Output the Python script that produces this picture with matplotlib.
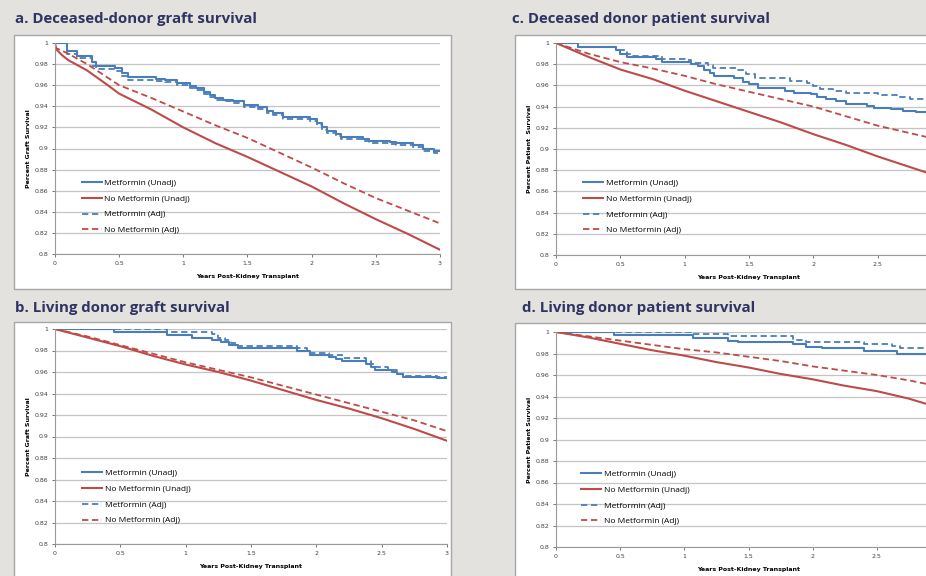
import matplotlib
matplotlib.use("Agg")
import matplotlib.pyplot as plt
from matplotlib.patches import Rectangle

# ---- data (years, survival fraction) ----
a_met_t = [0, 0.09, 0.17, 0.29, 0.32, 0.47, 0.52, 0.57, 0.79, 0.86, 0.95, 1.05, 1.1, 1.16, 1.21, 1.25,
           1.31, 1.39, 1.47, 1.58, 1.65, 1.7, 1.78, 1.99, 2.04, 2.08, 2.12, 2.19, 2.23, 2.4, 2.45, 2.61,
           2.66, 2.79, 2.87, 2.95, 3.0]
a_met_v = [1.0, 0.992, 0.988, 0.982, 0.978, 0.976, 0.972, 0.968, 0.966, 0.965, 0.962, 0.959, 0.957,
           0.954, 0.951, 0.948, 0.946, 0.945, 0.941, 0.939, 0.936, 0.934, 0.930, 0.928, 0.924, 0.92,
           0.917, 0.914, 0.911, 0.909, 0.907, 0.906, 0.905, 0.903, 0.900, 0.898, 0.898]
a_met_adj_v = [1.0, 0.990, 0.986, 0.978, 0.975, 0.973, 0.969, 0.965, 0.964, 0.963, 0.960, 0.957, 0.955,
               0.952, 0.949, 0.946, 0.945, 0.943, 0.939, 0.937, 0.934, 0.932, 0.928, 0.926, 0.922, 0.918,
               0.915, 0.912, 0.909, 0.907, 0.905, 0.904, 0.903, 0.901, 0.898, 0.896, 0.896]
a_nomet_t = [0, 0.01, 0.05, 0.1, 0.25, 0.4, 0.5, 0.75, 1.0, 1.25, 1.5, 1.75, 2.0, 2.25, 2.5, 2.75, 3.0]
a_nomet_v = [1.0, 0.994, 0.989, 0.984, 0.974, 0.961, 0.952, 0.937, 0.920, 0.905, 0.892, 0.878, 0.864,
             0.848, 0.833, 0.819, 0.804]
a_nomet_adj_v = [0.997, 0.995, 0.993, 0.990, 0.980, 0.968, 0.960, 0.948, 0.935, 0.922, 0.910, 0.896,
                 0.882, 0.867, 0.853, 0.841, 0.829]

b_met_t = [0, 0.45, 0.86, 1.05, 1.2, 1.27, 1.33, 1.4, 1.85, 1.95, 2.1, 2.15, 2.2, 2.38, 2.42, 2.45,
           2.58, 2.62, 2.66, 2.92, 3.0]
b_met_v = [1.0, 0.997, 0.994, 0.992, 0.990, 0.988, 0.985, 0.982, 0.980, 0.976, 0.974, 0.972, 0.970,
           0.967, 0.965, 0.962, 0.960, 0.958, 0.955, 0.954, 0.954]
b_met_adj_t = [0, 0.86, 1.2, 1.25, 1.3, 1.35, 1.4, 1.85, 1.93, 2.1, 2.2, 2.38, 2.42, 2.45, 2.55, 2.62,
               2.66, 2.92, 3.0]
b_met_adj_v = [1.0, 0.997, 0.995, 0.992, 0.990, 0.987, 0.984, 0.982, 0.978, 0.976, 0.973, 0.970, 0.967,
               0.965, 0.962, 0.958, 0.956, 0.955, 0.955]
b_nomet_t = [0, 0.25, 0.5, 0.75, 1.0, 1.25, 1.5, 1.75, 2.0, 2.25, 2.5, 2.75, 3.0]
b_nomet_v = [1.0, 0.992, 0.984, 0.975, 0.967, 0.960, 0.952, 0.943, 0.934, 0.926, 0.917, 0.907, 0.896]
b_nomet_adj_v = [1.0, 0.993, 0.985, 0.977, 0.969, 0.962, 0.955, 0.947, 0.939, 0.931, 0.923, 0.915, 0.905]

c_met_t = [0, 0.17, 0.47, 0.5, 0.55, 0.57, 0.78, 0.82, 1.05, 1.1, 1.15, 1.2, 1.23, 1.38, 1.45, 1.5,
           1.57, 1.78, 1.85, 1.98, 2.03, 2.1, 2.18, 2.25, 2.42, 2.47, 2.6, 2.7, 2.8, 2.88, 3.0]
c_met_v = [1.0, 0.996, 0.993, 0.990, 0.987, 0.987, 0.985, 0.982, 0.980, 0.978, 0.975, 0.972, 0.969,
           0.967, 0.963, 0.961, 0.958, 0.955, 0.953, 0.952, 0.949, 0.947, 0.945, 0.942, 0.941, 0.939,
           0.938, 0.936, 0.935, 0.932, 0.931]
c_met_adj_t = [0, 0.17, 0.47, 0.55, 0.6, 0.82, 1.0, 1.05, 1.18, 1.22, 1.4, 1.48, 1.55, 1.82, 1.95, 2.0,
               2.05, 2.15, 2.25, 2.45, 2.5, 2.65, 2.75, 2.88, 3.0]
c_met_adj_v = [1.0, 0.996, 0.993, 0.990, 0.988, 0.985, 0.984, 0.981, 0.979, 0.976, 0.975, 0.971, 0.967,
               0.964, 0.962, 0.959, 0.957, 0.955, 0.953, 0.953, 0.951, 0.949, 0.947, 0.945, 0.944]
c_nomet_t = [0, 0.25, 0.5, 0.75, 1.0, 1.25, 1.5, 1.75, 2.0, 2.25, 2.5, 2.75, 3.0]
c_nomet_v = [1.0, 0.987, 0.975, 0.966, 0.955, 0.945, 0.935, 0.925, 0.914, 0.904, 0.893, 0.883, 0.873]
c_nomet_adj_v = [1.0, 0.990, 0.982, 0.976, 0.969, 0.961, 0.954, 0.947, 0.940, 0.931, 0.922, 0.915, 0.908]

d_met_t = [0, 0.45, 1.07, 1.34, 1.42, 1.85, 1.95, 2.07, 2.4, 2.66, 3.0]
d_met_v = [1.0, 0.997, 0.994, 0.992, 0.991, 0.989, 0.986, 0.985, 0.982, 0.980, 0.980]
d_met_adj_t = [0, 1.07, 1.34, 1.85, 1.95, 2.4, 2.62, 2.68, 3.0]
d_met_adj_v = [1.0, 0.998, 0.996, 0.993, 0.991, 0.989, 0.987, 0.985, 0.985]
d_nomet_t = [0, 0.25, 0.5, 0.75, 1.0, 1.25, 1.5, 1.75, 2.0, 2.25, 2.5, 2.75, 3.0]
d_nomet_v = [1.0, 0.995, 0.989, 0.983, 0.978, 0.972, 0.967, 0.961, 0.956, 0.950, 0.945, 0.938, 0.929]
d_nomet_adj_v = [1.0, 0.996, 0.992, 0.988, 0.984, 0.981, 0.977, 0.973, 0.968, 0.964, 0.960, 0.955, 0.949]

x_ticks = [0, 0.5, 1, 1.5, 2, 2.5, 3]
x_labels = ["0", "0.5", "1", "1.5", "2", "2.5", "3"]
y_ticks = [0.8, 0.82, 0.84, 0.86, 0.88, 0.9, 0.92, 0.94, 0.96, 0.98, 1.0]
y_labels = ["0.8", "0.82", "0.84", "0.86", "0.88", "0.9", "0.92", "0.94", "0.96", "0.98", "1"]
series_names = ["Metformin (Unadj)", "No Metformin (Unadj)", "Metformin (Adj)", "No Metformin (Adj)"]

BLUE = "#4a7ebb"
RED = "#be4b48"
TITLE = "#2f3461"
W, H = 926, 576

fig = plt.figure(figsize=(W / 100, H / 100), dpi=100)
fig.patch.set_facecolor("#e3e2de")


def px_box(x0, y0, x1, y1):
    # pixel box (top-left origin) -> figure fraction rect
    return [x0 / W, 1 - y1 / H, (x1 - x0) / W, (y1 - y0) / H]


def panel(frame, plot, title, title_xy, ylabel, met, met_adj, nomet, leg_anchor, nticks):
    fx = px_box(*frame)
    fig.patches.append(Rectangle((fx[0], fx[1]), fx[2], fx[3], transform=fig.transFigure,
                                 facecolor="white", edgecolor="#a6a6a6", lw=1.0, zorder=-5))
    fig.text(title_xy[0] / W, 1 - title_xy[1] / H, title, fontsize=10.8, fontweight="bold",
             color=TITLE, family="Open Sans", va="center", ha="left")
    ax = fig.add_axes(px_box(*plot))
    ax.set_facecolor("none")
    l1, = ax.step(met[0], met[1], where="post", color=BLUE, lw=1.5)
    l2, = ax.plot(nomet[0], nomet[1], color=RED, lw=1.5)
    l3, = ax.step(met_adj[0], met_adj[1], where="post", color=BLUE, lw=1.3, ls=(0, (3.5, 2)))
    l4, = ax.plot(nomet[0], nomet[2], color=RED, lw=1.3, ls=(0, (3.5, 2)))
    ax.set_xlim(0, 3)
    ax.set_ylim(0.8, 1.0)
    # right-hand panels run off the slide edge, so their last label is not shown
    ax.set_xticks(x_ticks[:nticks])
    ax.set_xticklabels(x_labels[:nticks])
    ax.set_yticks(y_ticks)
    ax.set_yticklabels(y_labels)
    ax.tick_params(labelsize=4.5, colors="#404040", length=2, width=0.5, pad=3)
    ax.yaxis.grid(True, color="#c4c4c4", lw=0.9)
    ax.set_axisbelow(True)
    for s in ["top", "right"]:
        ax.spines[s].set_visible(False)
    for s in ["left", "bottom"]:
        ax.spines[s].set_color("#9a9a9a")
        ax.spines[s].set_linewidth(0.8)
    ax.set_xlabel("Years Post-Kidney Transplant", fontsize=4.5, fontweight="bold", labelpad=6)
    ax.set_ylabel(ylabel, fontsize=4.5, fontweight="bold", labelpad=2)
    ax.legend([l1, l2, l3, l4], series_names, loc="upper left", bbox_to_anchor=leg_anchor,
              frameon=False, handlelength=2.4, handletextpad=0.3,
              labelspacing=0.95, borderaxespad=0, borderpad=0,
              prop={"family": "Open Sans", "size": 6})
    return ax


panel((14, 35, 451, 289), (55, 43, 440, 254), "a. Deceased-donor graft survival", (15, 19),
      "Percent Graft Survival", (a_met_t, a_met_v), (a_met_t, a_met_adj_v),
      (a_nomet_t, a_nomet_v, a_nomet_adj_v), (0.07, 0.355), 7)
panel((14, 322, 451, 580), (55, 329, 447, 544), "b. Living donor graft survival", (15, 308),
      "Percent Graft Survival", (b_met_t, b_met_v), (b_met_adj_t, b_met_adj_v),
      (b_nomet_t, b_nomet_v, b_nomet_adj_v), (0.07, 0.347), 7)
panel((515, 35, 940, 289), (556, 43, 942, 255), "c. Deceased donor patient survival", (512, 19),
      "Percent Patient  Survival", (c_met_t, c_met_v), (c_met_adj_t, c_met_adj_v),
      (c_nomet_t, c_nomet_v, c_nomet_adj_v), (0.07, 0.357), 6)
panel((515, 323, 940, 580), (556, 332, 941, 547), "d. Living donor patient survival", (522, 308),
      "Percent Patient Survival", (d_met_t, d_met_v), (d_met_adj_t, d_met_adj_v),
      (d_nomet_t, d_nomet_v, d_nomet_adj_v), (0.065, 0.357), 6)

fig.savefig("out.png", dpi=100, facecolor=fig.get_facecolor())
